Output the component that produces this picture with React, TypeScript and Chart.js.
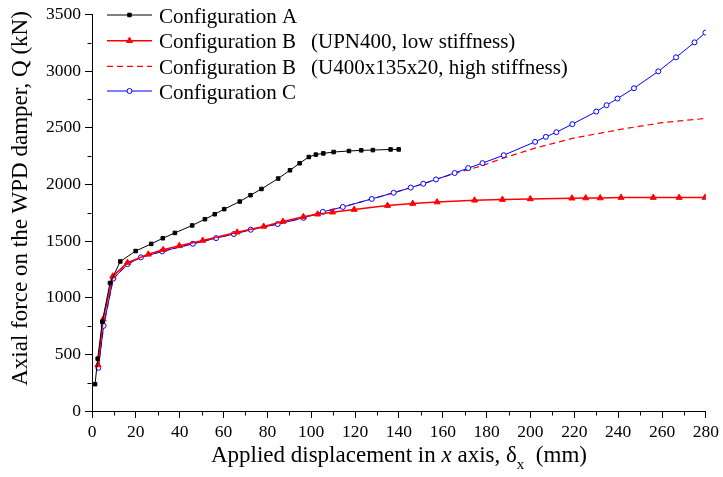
import React, { useEffect, useRef } from 'react';
import { Chart, registerables } from 'chart.js';
Chart.register(...registerables);

// Configuration A
const aX = [1.4, 2.6, 4.7, 8.2, 12.9, 19.9, 27, 32.3, 37.8, 45.7, 51.5, 56, 60.3, 67.4, 72.3, 77.3, 84.9, 90.3, 94.7, 98.9, 102.1, 105.5, 110.2, 117.2, 122.8, 128.1, 136.2, 139.9];
const aY = [237, 462, 788, 1130, 1320, 1412, 1475, 1525, 1572, 1638, 1693, 1737, 1782, 1849, 1905, 1960, 2052, 2125, 2187, 2242, 2263, 2274, 2286, 2295, 2301, 2303, 2309, 2309];

// Configuration B (UPN400, low stiffness)
const bLowX = [2.7, 5.1, 9.5, 16.2, 25.7, 32.5, 39.8, 50.5, 66.2, 78.3, 87.1, 96.4, 102.9, 109.7, 119.6, 134.8, 146.3, 157.4, 174.5, 187.2, 199.9, 218.9, 225.2, 231.8, 241.3, 256, 267.8, 279.6];
const bLowY = [407, 810, 1190, 1310, 1383, 1423, 1458, 1505, 1578, 1629, 1673, 1714, 1737, 1755, 1778, 1813, 1831, 1844, 1860, 1866, 1872, 1878, 1880, 1880, 1884, 1884, 1884, 1884];

// Configuration B (U400x135x20, high stiffness)
const bHighX = [2.9, 5.3, 9.7, 16.2, 22.3, 32, 46, 56.6, 72.4, 84.7, 96.5, 105.3, 114.4, 127.6, 137.6, 151.1, 165.4, 178.4, 187.5, 202, 219.4, 242.3, 260, 280];
const bHighY = [381, 752, 1169, 1296, 1356, 1409, 1476, 1526, 1600, 1650, 1705, 1758, 1801, 1872, 1926, 2006, 2097, 2168, 2232, 2320, 2408, 2490, 2545, 2583];

// Configuration C
const cX = [2.9, 5.3, 9.7, 16.2, 22.3, 32, 46, 56.6, 64.7, 72.4, 84.7, 96.5, 105.3, 114.4, 127.6, 137.6, 145.4, 151.1, 156.9, 165.4, 171.6, 178.1, 187.8, 202.1, 207, 211.8, 219.1, 230, 234.7, 239.7, 247.2, 258.3, 266.4, 274.8, 279.8];
const cY = [381, 752, 1169, 1296, 1356, 1409, 1476, 1526, 1562, 1600, 1650, 1705, 1758, 1801, 1872, 1926, 1972, 2006, 2044, 2101, 2144, 2188, 2258, 2376, 2420, 2461, 2532, 2643, 2699, 2758, 2849, 2998, 3122, 3254, 3340];

const legendNames = ['Configuration A', 'Configuration B', 'Configuration B', 'Configuration C'];
const legendNotes = ['', '(UPN400, low stiffness)', '(U400x135x20, high stiffness)', ''];

const yTitle = 'Axial force on the WPD damper, Q (kN)';
const xTitleParts = ['Applied displacement in ', 'x', ' axis, \u03b4', 'x', '  (mm)'];

const FONT = "'Liberation Serif', 'Times New Roman', serif";
Chart.defaults.font.family = FONT;
Chart.defaults.color = '#000';

const pts = (xs: number[], ys: number[]) => xs.map((x, i) => ({ x, y: ys[i] }));

function drawMarker(ctx: CanvasRenderingContext2D, style: string, r: number, x: number, y: number) {
  ctx.beginPath();
  if (style === 'rect') {
    const s = Math.SQRT1_2 * r;
    ctx.rect(x - s, y - s, 2 * s, 2 * s);
  } else if (style === 'triangle') {
    ctx.moveTo(x, y - r);
    ctx.lineTo(x + r * Math.sin(Math.PI / 3), y + r / 2);
    ctx.lineTo(x - r * Math.sin(Math.PI / 3), y + r / 2);
    ctx.closePath();
  } else {
    ctx.arc(x, y, r, 0, Math.PI * 2);
  }
  ctx.fill();
  ctx.stroke();
}

const decorPlugin = {
  id: 'decor',
  afterDraw(chart: any) {
    const ctx = chart.ctx;
    const xs = chart.scales.x;
    const ys = chart.scales.y;
    const area = chart.chartArea;
    ctx.save();
    ctx.strokeStyle = '#000';
    ctx.lineWidth = 1;
    // minor ticks
    ctx.beginPath();
    for (let v = 250; v < 3500; v += 500) {
      const py = Math.round(ys.getPixelForValue(v)) + 0.5;
      const px = Math.round(area.left) - 0.5;
      ctx.moveTo(px, py);
      ctx.lineTo(px - 4, py);
    }
    for (let v = 10; v < 280; v += 20) {
      const px = Math.round(xs.getPixelForValue(v)) + 0.5;
      const py = Math.round(area.bottom) + 0.5;
      ctx.moveTo(px, py);
      ctx.lineTo(px, py + 4);
    }
    ctx.stroke();

    // y title
    ctx.save();
    ctx.translate(21, 198.5);
    ctx.rotate(-Math.PI / 2);
    ctx.font = `23px ${FONT}`;
    ctx.fillStyle = '#000';
    ctx.textAlign = 'center';
    ctx.textBaseline = 'middle';
    ctx.fillText(yTitle, 0, 0);
    ctx.restore();

    // x title with italic x and subscript
    const big = 23;
    const fonts = [
      `${big}px ${FONT}`,
      `italic ${big}px ${FONT}`,
      `${big}px ${FONT}`,
      `15px ${FONT}`,
      `${big}px ${FONT}`,
    ];
    const offs = [0, 0, 0, 7, 0];
    let total = 0;
    const widths = xTitleParts.map((t, i) => {
      ctx.font = fonts[i];
      const w = ctx.measureText(t).width;
      total += w;
      return w;
    });
    let cx = (area.left + area.right) / 2 - total / 2;
    const base = 462;
    ctx.fillStyle = '#000';
    ctx.textBaseline = 'alphabetic';
    ctx.textAlign = 'left';
    xTitleParts.forEach((t, i) => {
      ctx.font = fonts[i];
      ctx.fillText(t, cx, base + offs[i]);
      cx += widths[i];
    });

    // legend
    const rows = [15, 40.7, 66.3, 91];
    const x0 = 107, x1 = 152, xm = 129.5;
    chart.data.datasets.forEach((ds: any) => {
      const i = ds.legendIndex;
      const y = rows[i];
      ctx.save();
      ctx.strokeStyle = ds.borderColor;
      ctx.lineWidth = ds.borderWidth;
      ctx.setLineDash(ds.borderDash || []);
      ctx.beginPath();
      ctx.moveTo(x0, y);
      ctx.lineTo(x1, y);
      ctx.stroke();
      ctx.restore();
      if (ds.pointRadius > 0) {
        ctx.save();
        ctx.fillStyle = ds.pointBackgroundColor;
        ctx.strokeStyle = ds.pointBorderColor;
        ctx.lineWidth = ds.pointBorderWidth;
        drawMarker(ctx, ds.pointStyle, ds.pointRadius, xm, y);
        ctx.restore();
      }
      ctx.font = `21px ${FONT}`;
      ctx.fillStyle = '#000';
      ctx.fillText(legendNames[i], 159, y + 7.5);
      if (legendNotes[i]) ctx.fillText(legendNotes[i], 311, y + 7.5);
    });
    ctx.restore();
  },
};

export default function App() {
  const ref = useRef<HTMLCanvasElement>(null);
  useEffect(() => {
    if (!ref.current) return;
    const chart = new Chart(ref.current, {
      type: 'line',
      data: {
        datasets: [
          {
            legendIndex: 0,
            data: pts(aX, aY),
            borderColor: '#000000',
            borderWidth: 1,
            pointStyle: 'rect',
            pointRadius: 2.5,
            pointBackgroundColor: '#000000',
            pointBorderColor: '#000000',
            pointBorderWidth: 1,
          } as any,
          {
            legendIndex: 1,
            data: pts(bLowX, bLowY),
            borderColor: '#ff0000',
            borderWidth: 1.5,
            pointStyle: 'triangle',
            pointRadius: 3.5,
            pointBackgroundColor: '#ff0000',
            pointBorderColor: '#ff0000',
            pointBorderWidth: 1,
          } as any,
          {
            legendIndex: 3,
            data: pts(cX, cY),
            borderColor: '#0000ff',
            borderWidth: 1,
            pointStyle: 'circle',
            pointRadius: 2.5,
            pointBackgroundColor: '#ffffff',
            pointBorderColor: '#0000ff',
            pointBorderWidth: 1,
          } as any,
          {
            legendIndex: 2,
            data: pts(bHighX, bHighY),
            borderColor: '#ff0000',
            borderWidth: 1.2,
            borderDash: [6, 4],
            pointRadius: 0,
            pointStyle: 'circle',
            pointBackgroundColor: '#ff0000',
            pointBorderColor: '#ff0000',
            pointBorderWidth: 1,
          } as any,
        ],
      },
      options: {
        animation: false,
        responsive: false,
        maintainAspectRatio: false,
        devicePixelRatio: 1,
        layout: { padding: { top: 12, right: 17, left: 0, bottom: 0 } },
        elements: { line: { tension: 0 } },
        plugins: { legend: { display: false }, tooltip: { enabled: false } },
        scales: {
          x: {
            type: 'linear',
            min: 0,
            max: 280,
            afterFit: (s: any) => { s.height = 66; },
            ticks: { stepSize: 20, padding: 4, color: '#000', font: { family: FONT, size: 17.5 }, maxRotation: 0, callback: (v: any) => String(v) },
            grid: { display: true, drawOnChartArea: false, drawTicks: true, tickLength: 7, color: '#000', lineWidth: 1 },
            border: { display: true, color: '#000', width: 1 },
            title: { display: false },
          },
          y: {
            type: 'linear',
            min: 0,
            max: 3500,
            afterFit: (s: any) => { s.width = 92; },
            ticks: { stepSize: 500, padding: 4, color: '#000', font: { family: FONT, size: 17.5 }, callback: (v: any) => String(v) },
            grid: { display: true, drawOnChartArea: false, drawTicks: true, tickLength: 7, color: '#000', lineWidth: 1 },
            border: { display: true, color: '#000', width: 1 },
            title: { display: false },
          },
        },
      },
      plugins: [decorPlugin],
    });
    return () => chart.destroy();
  }, []);
  return (
    <div style={{ position: 'absolute', left: 0, top: 0, width: 723, height: 477, background: '#fff' }}>
      <canvas ref={ref} width={723} height={477} style={{ width: 723, height: 477 }} />
    </div>
  );
}
